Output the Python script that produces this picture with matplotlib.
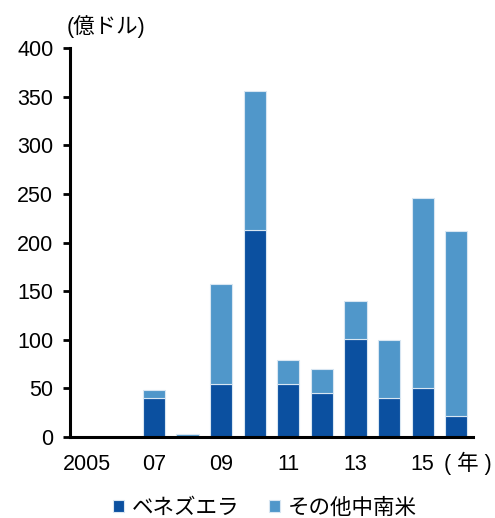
import matplotlib.pyplot as plt
import numpy as np

plt.rcParams["font.family"] = ["Liberation Sans", "Noto Sans CJK JP"]

years = list(range(2005, 2017))
tick_labels = ["2005", "", "07", "", "09", "", "11", "", "13", "", "15", ""]
venezuela = [0, 0, 40, 0, 55, 213, 55, 45, 101, 40, 50, 22]
other_latam = [0, 0, 8, 3, 102, 143, 24, 25, 39, 60, 196, 190]

DARK = "#0B50A0"
LIGHT = "#5097CA"
FS = 15.5

fig = plt.figure(figsize=(4.95, 5.18), dpi=100)
ax = fig.add_axes([0.1414, 0.1564, 0.8142, 0.7509])

x = np.arange(len(years))
ax.bar(x, venezuela, width=0.66, color=DARK, edgecolor="#d8e6f2", linewidth=0.8,
       label="ベネズエラ")
ax.bar(x, other_latam, width=0.66, bottom=venezuela, color=LIGHT,
       edgecolor="#d8e6f2", linewidth=0.8, label="その他中南米")

ax.set_xlim(-0.5, len(years) - 0.5)
ax.set_ylim(0, 400)
ax.set_yticks(np.arange(0, 401, 50))
ax.set_xticks(x)
ax.set_xticklabels(tick_labels)
ax.tick_params(axis="x", length=0, labelsize=FS, pad=12)
ax.tick_params(axis="y", length=5, width=2, labelsize=FS, pad=7)

for side in ["top", "right"]:
    ax.spines[side].set_visible(False)
for side in ["left", "bottom"]:
    ax.spines[side].set_linewidth(2.2)

fig.text(0.135, 0.948, "(億ドル)", fontsize=FS, ha="left", va="center")
ax.text(11.35, -0.068, "( 年 )", transform=ax.get_xaxis_transform(),
        fontsize=FS, ha="center", va="center")

ax.legend(loc="center", bbox_to_anchor=(0.535, 0.019), bbox_transform=fig.transFigure,
          ncol=2, frameon=False, fontsize=FS, handlelength=0.5, handleheight=0.5,
          handletextpad=0.35, columnspacing=1.4)

fig.savefig("out.png", dpi=100)
